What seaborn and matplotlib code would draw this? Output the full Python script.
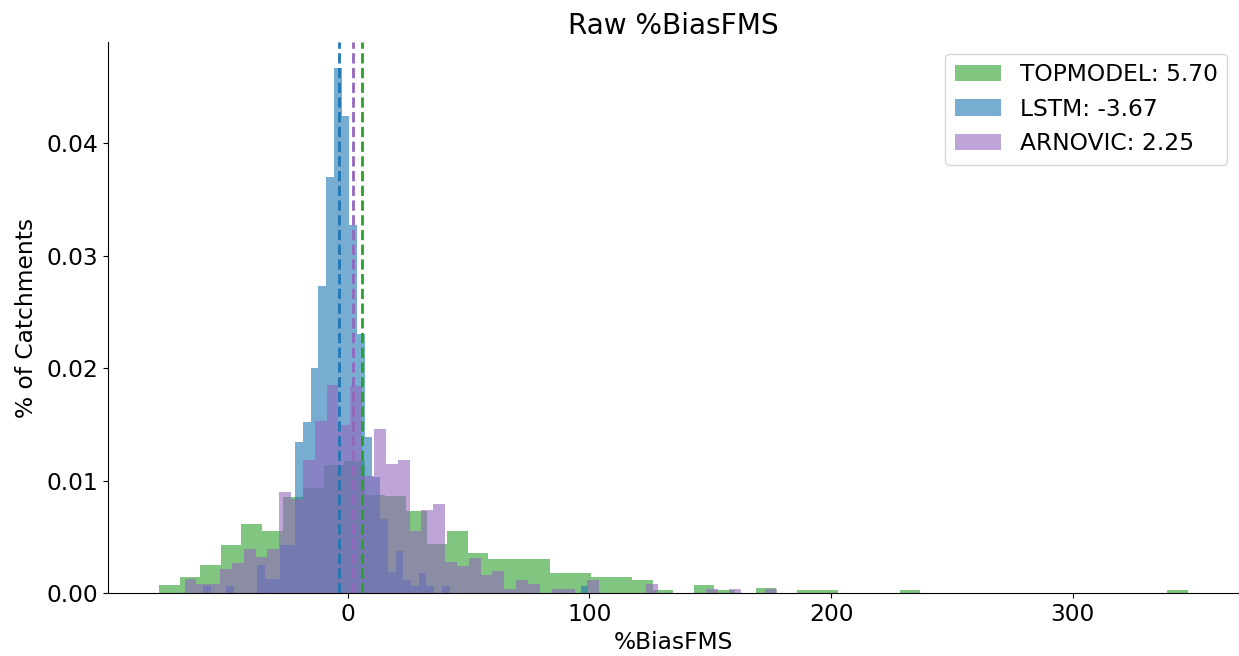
import numpy as np
import pandas as pd
import matplotlib
matplotlib.use("Agg")
import matplotlib.pyplot as plt
import seaborn as sns

# ---- data (density per bin) ----
n_bins = 50

topmodel_range = (-78.1, 347.5)
topmodel_density = [0.0007, 0.0014, 0.0025, 0.0043, 0.0061, 0.0055, 0.0085, 0.0093, 0.0114, 0.0117,
                    0.0087, 0.0086, 0.0073, 0.0044, 0.0055, 0.0036, 0.0030, 0.0030, 0.0030, 0.0018,
                    0.0018, 0.0014, 0.0014, 0.0012, 0.00024, 0.0, 0.0007, 0.00024, 0.0, 0.00047,
                    0.0, 0.00024, 0.00024, 0.0, 0.0, 0.0, 0.00024, 0.0, 0.0, 0.0,
                    0.0, 0.0, 0.0, 0.0, 0.0, 0.0, 0.0, 0.0, 0.0, 0.00024]

lstm_range = (-60.0, 99.5)
lstm_density = [0.00062, 0.0, 0.0, 0.00062, 0.0, 0.0, 0.0, 0.0025, 0.00124, 0.00124,
                0.0043, 0.0043, 0.0134, 0.0152, 0.0200, 0.0273, 0.0370, 0.0467, 0.0424, 0.0327,
                0.0230, 0.0139, 0.0103, 0.0066, 0.0019, 0.0037, 0.0012, 0.0006, 0.0018, 0.0006,
                0.0, 0.0006, 0.0, 0.0, 0.0, 0.0, 0.0, 0.0, 0.0, 0.0,
                0.0, 0.0, 0.0, 0.0, 0.0, 0.0, 0.0, 0.0, 0.0, 0.00062]

arnovic_range = (-67.6, 177.5)
arnovic_density = [0.00125, 0.00083, 0.00083, 0.0021, 0.0027, 0.0039, 0.0032, 0.0039, 0.0090, 0.0084,
                   0.0118, 0.0153, 0.0185, 0.0149, 0.0184, 0.0104, 0.01455, 0.01144, 0.0118, 0.0055,
                   0.0074, 0.0079, 0.0028, 0.0024, 0.0031, 0.0016, 0.0020, 0.0004, 0.0012, 0.0008,
                   0.0, 0.0004, 0.0004, 0.0, 0.0012, 0.0, 0.0, 0.0, 0.0, 0.0008,
                   0.0, 0.0, 0.0, 0.0, 0.0004, 0.0, 0.0004, 0.0, 0.0, 0.0004]

series_names = ["TOPMODEL", "LSTM", "ARNOVIC"]
series_medians = [5.70, -3.67, 2.25]
series_colors = ["tab:green", "tab:blue", "tab:purple"]

title_text = "Raw %BiasFMS"
x_label = "%BiasFMS"
y_label = "% of Catchments"

# ---- plot ----
fig = plt.figure(figsize=(12.39, 6.56), dpi=100)
ax = fig.add_axes([0.0869, 0.096, 0.9131, 0.840])

ranges = [topmodel_range, lstm_range, arnovic_range]
densities = [topmodel_density, lstm_density, arnovic_density]

for name, med, col, rng, dens in zip(series_names, series_medians, series_colors, ranges, densities):
    edges = np.linspace(rng[0], rng[1], n_bins + 1)
    centers = 0.5 * (edges[:-1] + edges[1:])
    df = pd.DataFrame({"value": centers, "density": dens})
    sns.histplot(data=df, x="value", weights="density", bins=[float(e) for e in edges],
                 stat="count", color=col, alpha=0.6, linewidth=0, ax=ax,
                 label=f"{name}: {med:.2f}")

for med, col in zip(series_medians, series_colors):
    ax.axvline(med, color=col, linestyle="--", linewidth=2)

fs = 16.8
ax.set_title(title_text, fontsize=20.2)
ax.set_xlabel(x_label, fontsize=fs)
ax.set_ylabel(y_label, fontsize=fs, labelpad=6)
ax.tick_params(labelsize=fs)
ax.set_xticks([0, 100, 200, 300])
ax.set_yticks([0.0, 0.01, 0.02, 0.03, 0.04])
ax.set_yticklabels(["0.00", "0.01", "0.02", "0.03", "0.04"])
ax.set_xlim(-99.4, 368.8)
ax.set_ylim(0, 0.049)
sns.despine(ax=ax)
ax.legend(loc="upper right", fontsize=fs)

fig.savefig("out.png", dpi=100)
